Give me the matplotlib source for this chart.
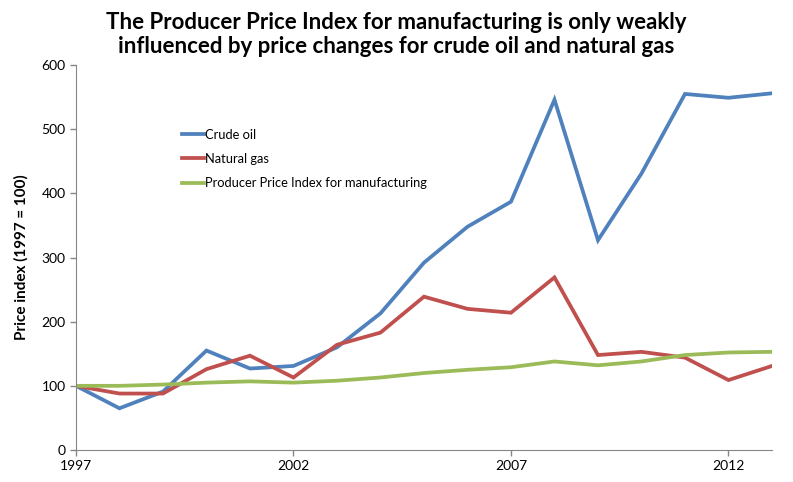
import numpy as np
import matplotlib.pyplot as plt

years = list(range(1997, 2014))
crude_oil = [100, 65, 91, 155, 127, 131, 160, 213, 292, 348, 387, 546, 327, 431, 555, 549, 556]
natural_gas = [100, 88, 88, 126, 147, 113, 164, 183, 239, 220, 214, 269, 148, 153, 144, 109, 131]
ppi_manuf = [100, 100, 102, 105, 107, 105, 108, 113, 120, 125, 129, 138, 132, 138, 148, 152, 153]
series_names = ['Crude oil', 'Natural gas', 'Producer Price Index for manufacturing']
series_colors = ['#4F81BD', '#C0504D', '#9BBB59']
x_ticks = [1997, 2002, 2007, 2012]
y_ticks = [0, 100, 200, 300, 400, 500, 600]

plt.rcParams['font.family'] = ['Lato', 'DejaVu Sans']

fig = plt.figure(figsize=(7.93, 4.82), dpi=100)
ax = fig.add_axes([0.0958, 0.0664, 0.8777, 0.7986])

for vals, name, col in zip([crude_oil, natural_gas, ppi_manuf], series_names, series_colors):
    ax.plot(years, vals, color=col, lw=2.7, label=name, solid_joinstyle='miter')

ax.set_xlim(1997, 2013)
ax.set_ylim(0, 600)
ax.set_xticks(x_ticks)
ax.set_yticks(y_ticks)
ax.tick_params(axis='both', labelsize=10, color='#868686', length=4, width=1)
for s in ['top', 'right']:
    ax.spines[s].set_visible(False)
for s in ['left', 'bottom']:
    ax.spines[s].set_color('#868686')
ax.set_ylabel('Price index (1997 = 100)', fontsize=11, fontweight='bold', labelpad=9)

leg = ax.legend(loc='upper left', bbox_to_anchor=(0.135, 0.865), frameon=False,
                fontsize=9.3, handlelength=1.7, handletextpad=0.1, labelspacing=0.95)

fig.suptitle('The Producer Price Index for manufacturing is only weakly\n'
             'influenced by price changes for crude oil and natural gas',
             fontsize=16, fontweight='bold', y=0.975, linespacing=1.2)

fig.savefig('out.png', dpi=100)
